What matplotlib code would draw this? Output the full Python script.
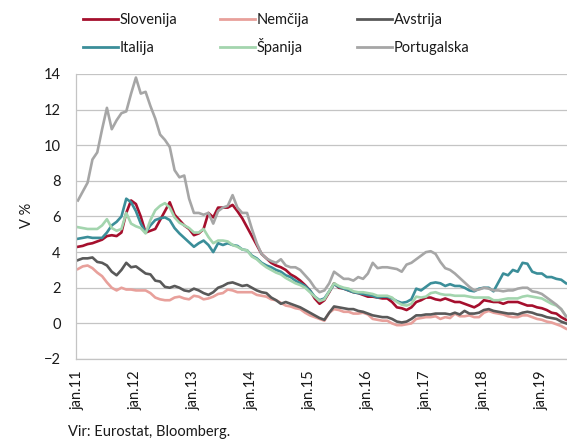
import matplotlib
matplotlib.use('Agg')
import matplotlib.pyplot as plt
from matplotlib.lines import Line2D
import numpy as np

plt.rcParams['font.family'] = ['Lato', 'DejaVu Sans']

# Monthly data, jan.2011 - jun.2019 (V %)
slovenija = [4.3, 4.35, 4.45, 4.5, 4.6, 4.7, 4.9, 4.95, 4.9, 5.1, 6.2, 6.9,
             6.7, 6.0, 5.1, 5.2, 5.3, 5.8, 6.3, 6.8, 6.1, 5.8, 5.5, 5.3,
             4.95, 5.05, 5.3, 6.2, 5.95, 6.5, 6.5, 6.5, 6.65, 6.3, 5.9, 5.4,
             4.9, 4.4, 3.9, 3.65, 3.4, 3.25, 3.15, 3.0, 2.75, 2.6, 2.4, 2.15,
             1.85, 1.4, 1.1, 1.3, 1.75, 2.25, 2.0, 1.95, 1.85, 1.75, 1.7, 1.6,
             1.5, 1.5, 1.45, 1.4, 1.4, 1.2, 0.9, 0.85, 0.75, 0.9, 1.2, 1.3,
             1.45, 1.45, 1.35, 1.3, 1.4, 1.3, 1.2, 1.2, 1.1, 1.0, 0.9, 1.05,
             1.3, 1.25, 1.2, 1.2, 1.1, 1.2, 1.2, 1.2, 1.1, 1.0, 1.0, 0.9,
             0.85, 0.75, 0.6, 0.55, 0.35, 0.2]
nemcija = [3.05, 3.2, 3.25, 3.1, 2.85, 2.65, 2.3, 2.0, 1.85, 2.0, 1.9, 1.9,
           1.85, 1.85, 1.85, 1.7, 1.45, 1.35, 1.3, 1.3, 1.45, 1.5, 1.4, 1.35,
           1.55, 1.5, 1.35, 1.4, 1.5, 1.65, 1.7, 1.9, 1.85, 1.75, 1.75, 1.75,
           1.75, 1.6, 1.55, 1.5, 1.35, 1.3, 1.15, 1.0, 0.95, 0.85, 0.8, 0.6,
           0.45, 0.35, 0.25, 0.15, 0.6, 0.8, 0.75, 0.65, 0.65, 0.55, 0.55, 0.6,
           0.5, 0.25, 0.2, 0.15, 0.15, 0.0, -0.1, -0.1, -0.05, 0.0, 0.25, 0.3,
           0.35, 0.35, 0.4, 0.25, 0.35, 0.3, 0.55, 0.4, 0.4, 0.45, 0.35, 0.35,
           0.6, 0.7, 0.6, 0.55, 0.5, 0.4, 0.35, 0.35, 0.45, 0.45, 0.35, 0.25,
           0.2, 0.1, 0.05, -0.05, -0.15, -0.3]
avstrija = [3.55, 3.65, 3.65, 3.7, 3.45, 3.4, 3.25, 2.9, 2.7, 3.0, 3.4, 3.15,
            3.2, 3.0, 2.8, 2.75, 2.4, 2.35, 2.05, 2.0, 2.1, 2.0, 1.85, 1.8,
            1.95, 1.85, 1.7, 1.6, 1.75, 2.0, 2.1, 2.25, 2.3, 2.2, 2.1, 2.15,
            2.0, 1.85, 1.75, 1.7, 1.45, 1.3, 1.1, 1.2, 1.1, 1.0, 0.9, 0.75,
            0.6, 0.45, 0.3, 0.2, 0.6, 0.95, 0.9, 0.85, 0.8, 0.8, 0.7, 0.65,
            0.55, 0.45, 0.4, 0.35, 0.35, 0.25, 0.1, 0.05, 0.1, 0.25, 0.45, 0.45,
            0.5, 0.5, 0.55, 0.55, 0.55, 0.5, 0.6, 0.5, 0.7, 0.55, 0.55, 0.6,
            0.75, 0.8, 0.7, 0.65, 0.6, 0.55, 0.55, 0.5, 0.6, 0.65, 0.6, 0.5,
            0.45, 0.35, 0.3, 0.25, 0.1, 0.0]
italija = [4.75, 4.8, 4.85, 4.8, 4.8, 4.8, 5.1, 5.5, 5.7, 6.0, 7.0, 6.8,
           6.3, 5.6, 5.1, 5.5, 5.8, 5.9, 5.95, 5.8, 5.35, 5.05, 4.8, 4.55,
           4.3, 4.5, 4.65, 4.4, 4.0, 4.5, 4.4, 4.5, 4.4, 4.35, 4.15, 4.1,
           3.8, 3.65, 3.4, 3.25, 3.15, 3.0, 2.9, 2.7, 2.6, 2.4, 2.25, 2.1,
           1.85, 1.5, 1.3, 1.4, 1.8, 2.2, 2.05, 1.95, 1.85, 1.75, 1.7, 1.65,
           1.6, 1.55, 1.45, 1.5, 1.5, 1.4, 1.25, 1.15, 1.2, 1.35, 1.95, 1.85,
           2.05, 2.25, 2.3, 2.25, 2.1, 2.2, 2.1, 2.1, 2.0, 1.85, 1.8, 1.95,
           2.0, 2.0, 1.8, 2.3, 2.8, 2.7, 3.0, 2.9, 3.4, 3.35, 2.9, 2.8,
           2.8, 2.6, 2.6, 2.5, 2.45, 2.25]
spanija = [5.4, 5.35, 5.3, 5.3, 5.3, 5.5, 5.85, 5.35, 5.2, 5.3, 6.2, 5.6,
           5.45, 5.35, 5.05, 5.8, 6.35, 6.6, 6.75, 6.5, 5.95, 5.65, 5.5, 5.35,
           5.1, 5.1, 5.3, 4.85, 4.5, 4.65, 4.65, 4.6, 4.4, 4.3, 4.15, 4.1,
           3.75, 3.6, 3.35, 3.15, 3.0, 2.85, 2.75, 2.55, 2.4, 2.25, 2.15, 2.0,
           1.75, 1.5, 1.25, 1.35, 1.8, 2.25, 2.1, 2.0, 1.95, 1.8, 1.75, 1.75,
           1.7, 1.65, 1.55, 1.55, 1.55, 1.45, 1.2, 1.05, 1.0, 1.1, 1.5, 1.45,
           1.5, 1.7, 1.75, 1.65, 1.6, 1.6, 1.55, 1.55, 1.55, 1.5, 1.45, 1.45,
           1.45, 1.45, 1.3, 1.3, 1.35, 1.4, 1.4, 1.4, 1.5, 1.55, 1.5, 1.45,
           1.4, 1.25, 1.1, 1.0, 0.8, 0.4]
portugalska = [6.9, 7.4, 7.9, 9.2, 9.6, 10.9, 12.1, 10.9, 11.4, 11.8, 11.9, 12.9,
               13.8, 12.9, 13.0, 12.2, 11.5, 10.6, 10.3, 9.9, 8.6, 8.2, 8.3, 7.0,
               6.2, 6.2, 6.1, 6.2, 5.6, 6.3, 6.5, 6.6, 7.2, 6.5, 6.2, 6.2,
               5.3, 4.5, 3.9, 3.65, 3.5, 3.4, 3.6, 3.25, 3.15, 3.15, 3.0, 2.7,
               2.4, 2.0, 1.75, 1.85, 2.25, 2.9, 2.7, 2.5, 2.5, 2.4, 2.6, 2.5,
               2.8, 3.4, 3.1, 3.15, 3.15, 3.1, 3.05, 2.9, 3.3, 3.4, 3.6, 3.8,
               4.0, 4.05, 3.9, 3.45, 3.1, 3.0, 2.8, 2.55, 2.3, 2.05, 1.85, 1.9,
               2.0, 1.95, 1.85, 1.85, 1.8, 1.85, 1.85, 1.95, 2.0, 2.0, 1.8, 1.75,
               1.65, 1.45, 1.25, 1.05, 0.8, 0.4]

series_names = ['Slovenija', 'Nemčija', 'Avstrija', 'Italija', 'Španija', 'Portugalska']
series_vals = [slovenija, nemcija, avstrija, italija, spanija, portugalska]
colors = ['#A50F2D', '#E8A09B', '#595959', '#3B8E99', '#A3D5AE', '#A6A6A6']
tick_labels = ['jan.11', 'jan.12', 'jan.13', 'jan.14', 'jan.15', 'jan.16',
               'jan.17', 'jan.18', 'jan.19']

W, H = 567, 441
fig = plt.figure(figsize=(W / 100, H / 100), dpi=100)
ax = fig.add_axes([76 / W, 1 - 359 / H, (567 - 76) / W, (359 - 74) / H])

x = np.arange(len(slovenija))
lines = []
for name, vals, c in zip(series_names, series_vals, colors):
    ln, = ax.plot(x, vals, color=c, lw=1.9, label=name, solid_joinstyle='round')
    lines.append(ln)

ax.set_ylim(-2, 14)
ax.set_yticks(np.arange(-2, 15, 2))
ax.set_xlim(-0.4, 101.2)
ax.set_xticks(np.arange(len(tick_labels)) * 12)
ax.set_xticklabels(tick_labels, rotation=90, fontsize=10.5, color='#1a1a1a')
ax.tick_params(axis='y', length=0, pad=11, labelsize=10.5, labelcolor='#1a1a1a')
ax.tick_params(axis='x', length=0, pad=8)
ax.grid(axis='y', color='#C4C4C4', lw=0.9)
ax.set_axisbelow(True)
for s in ['top', 'right']:
    ax.spines[s].set_visible(False)
for s in ['left', 'bottom']:
    ax.spines[s].set_color('#C4C4C4')
    ax.spines[s].set_linewidth(0.9)

fig.text(27 / W, 1 - 215 / H, 'V %', rotation=90, ha='center', va='center',
         fontsize=10.5, color='#1a1a1a')
fig.text(68 / W, 1 - 432 / H, 'Vir: Eurostat, Bloomberg.', ha='left', va='center',
         fontsize=10.5, color='#1a1a1a')

# legend drawn as figure artists: 3 columns x 2 rows, baseline-aligned text
col_x = [83, 220, 357]
row_y = [19, 47]
for i, ln in enumerate(lines):
    cx = col_x[i % 3]
    ry = row_y[i // 3]
    fig.add_artist(Line2D([cx / W, (cx + 35) / W], [1 - ry / H, 1 - ry / H],
                          transform=fig.transFigure, color=ln.get_color(), lw=2.0))
    fig.text((cx + 37) / W, 1 - (ry + 5) / H, ln.get_label(), ha='left',
             va='baseline', fontsize=10.5, color='#1a1a1a')

fig.savefig('out.png', dpi=100)
